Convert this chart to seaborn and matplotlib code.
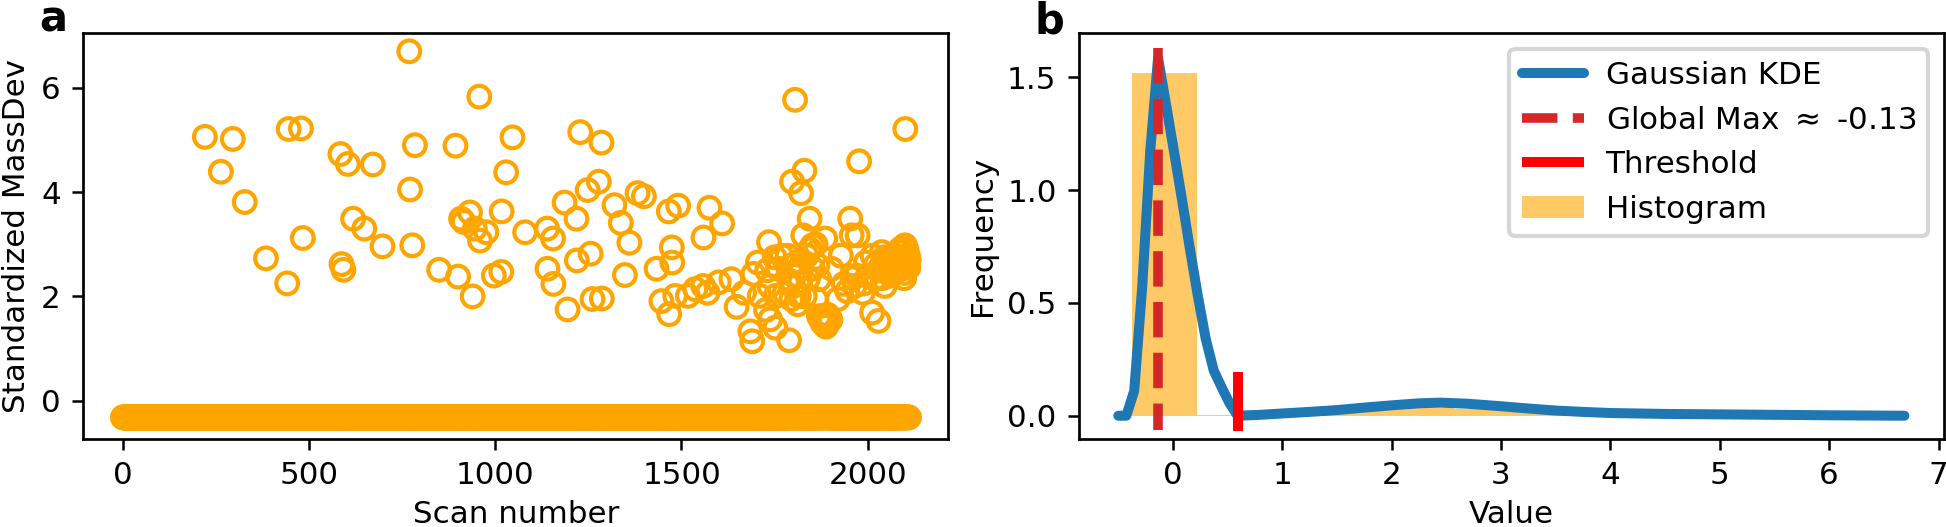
import numpy as np
import seaborn as sns
import matplotlib.pyplot as plt

# === panel a: standardized mass deviation per scan ===
n_scans = 2112
baseline_level = -0.32  # nearly all scans sit on this level

outlier_scans = [769, 957, 1805, 220, 295, 445, 478, 2101, 1228, 1285, 1046, 784, 893,
                 263, 1029, 1830, 1977, 584, 604, 671, 327, 771, 1797, 1821, 384, 441,
                 483, 587, 592, 618, 648, 697, 777, 849, 900, 908, 932, 945, 959, 939,
                 915, 976, 996, 1016, 1017, 1080, 1139, 1155, 1140, 1156, 1186, 1194,
                 1218, 1219, 1248, 1256, 1278, 1261, 1286, 1320, 1337, 1360, 1348, 1382,
                 1399, 1433, 1446, 1466, 1491, 1474, 1475, 1467, 1483, 1517, 1537, 1558,
                 1570, 1559, 1575, 1609, 1600, 1634, 1648, 1685, 1690, 1693, 1705, 1727,
                 1735, 1738, 1752, 1789, 1760, 1777, 1785, 1802, 1815, 1827, 1844, 1852,
                 1861, 1869, 1883, 1886, 1903, 1920, 1928, 1936, 1953, 1957, 1973, 1970,
                 1987, 2012, 2029, 2020, 2037, 2054, 2071, 2088, 2100, 2105, 2108, 2089,
                 2063, 2046, 1995, 2013, 2038, 1878, 1890, 1885, 1900, 1769, 1794, 1836,
                 1853, 1870, 1819, 1753, 1736, 1710, 1668,
                 2050, 2060, 2075, 2080, 2095, 2099, 2110, 2104, 2090, 2070, 2040, 2030,
                 2000, 1990, 1965, 1945, 1960, 2021, 2045, 2085, 2098, 2109, 1880, 1888,
                 1895, 1875, 1892, 1790, 1800, 1810, 1822, 1831, 1795, 1812, 1840, 1845,
                 1860, 1865, 1750, 1730]
outlier_values = [6.70, 5.83, 5.77, 5.06, 5.02, 5.21, 5.22, 5.21, 5.15, 4.95, 5.05, 4.90, 4.89,
                  4.39, 4.38, 4.41, 4.59, 4.73, 4.54, 4.53, 3.81, 4.05, 4.20, 3.98, 2.73, 2.25,
                  3.12, 2.62, 2.51, 3.49, 3.30, 2.96, 2.98, 2.51, 2.38, 3.49, 3.61, 3.30, 3.07, 2.00,
                  3.43, 3.23, 2.40, 2.47, 3.63, 3.23, 3.30, 3.11, 2.53, 2.24, 3.80, 1.75,
                  3.49, 2.69, 4.04, 2.82, 4.20, 1.95, 1.96, 3.75, 3.41, 3.03, 2.41, 3.98,
                  3.92, 2.53, 1.91, 3.63, 3.74, 2.94, 2.65, 1.66, 2.01, 2.01, 2.14, 2.20,
                  2.07, 3.13, 3.70, 3.40, 2.27, 2.33, 1.80, 1.33, 1.14, 2.43, 2.65, 1.74,
                  3.04, 1.56, 1.40, 1.16, 2.53, 2.07, 2.78, 2.40, 2.01, 3.17, 3.49, 2.98,
                  1.95, 1.62, 1.56, 3.11, 2.53, 1.95, 2.78, 2.24, 3.49, 3.17, 3.17, 2.40,
                  2.07, 1.69, 1.53, 2.33, 2.59, 2.72, 2.78, 2.91, 2.98, 2.59, 2.78, 2.53,
                  2.40, 2.20, 2.65, 2.78, 2.85, 1.50, 1.45, 1.60, 1.55, 2.78, 2.59, 2.78,
                  2.53, 2.33, 2.27, 2.01, 2.20, 2.01, 2.07,
                  2.50, 2.65, 2.55, 2.70, 2.60, 2.45, 2.70, 2.90, 2.75, 2.45, 2.35, 2.50,
                  2.40, 2.25, 2.20, 2.10, 2.35, 2.60, 2.75, 2.85, 2.35, 2.55, 1.50, 1.42,
                  1.55, 1.62, 1.65, 2.30, 2.20, 2.65, 2.55, 2.00, 1.95, 1.85, 2.35, 2.90,
                  3.00, 2.60, 2.75, 2.50]

# === panel b: density of the values ===
kde_x = [-0.497, -0.424, -0.352, -0.279, -0.206, -0.134, -0.061, 0.012, 0.084, 0.157,
         0.230, 0.302, 0.375, 0.448, 0.520, 0.593, 0.80, 1.00, 1.25, 1.50, 1.75, 2.00,
         2.25, 2.45, 2.70, 3.00, 3.25, 3.50, 3.75, 4.00, 4.50, 5.00, 5.50, 6.00, 6.687]
kde_y = [0.0, 0.0, 0.11, 0.57, 1.17, 1.585, 1.38, 1.17, 0.96, 0.74,
         0.53, 0.34, 0.20, 0.125, 0.055, 0.0, 0.004, 0.01, 0.017, 0.025, 0.036, 0.046,
         0.055, 0.058, 0.053, 0.042, 0.032, 0.023, 0.017, 0.012, 0.008, 0.006, 0.004, 0.002, 0.0]

hist_edges = [-0.37, 0.219, 0.808, 1.397, 1.986, 2.575, 3.164, 3.753, 4.342, 4.931, 5.52, 6.109, 6.698]
hist_heights = [1.518, 0.003, 0.008, 0.025, 0.035, 0.03, 0.015, 0.01, 0.007, 0.006, 0.003, 0.002]

global_max = -0.13
global_max_span = (1.628, -0.063)
threshold = 0.6
threshold_span = (-0.066, 0.192)

# === style ===
fs = 7.45
sns.set_style("ticks")
plt.rcParams.update({
    "font.family": ["DejaVu Sans"],
    "font.size": fs,
    "axes.labelsize": fs,
    "xtick.labelsize": fs,
    "ytick.labelsize": fs,
    "legend.fontsize": fs,
    "axes.edgecolor": "black",
    "axes.linewidth": 0.65,
    "axes.labelpad": 2.5,
    "xtick.color": "black",
    "ytick.color": "black",
    "xtick.major.size": 2.6,
    "ytick.major.size": 2.6,
    "xtick.major.width": 0.6,
    "ytick.major.width": 0.6,
    "xtick.major.pad": 2.8,
    "ytick.major.pad": 2.8,
    "axes.labelcolor": "black",
    "text.color": "black",
})

fig = plt.figure(figsize=(1946 / 300, 527 / 300), dpi=300)
ax1 = fig.add_axes([0.0429, 0.1679, 0.4445, 0.7694])
ax2 = fig.add_axes([0.5545, 0.1679, 0.4443, 0.7694])

# --- a ---
scan_number = np.arange(n_scans)
mass_dev = np.full(n_scans, baseline_level)
mass_dev[outlier_scans] = outlier_values

sns.scatterplot(x=scan_number, y=mass_dev, ax=ax1, s=27, facecolor="none",
                edgecolor="orange", linewidth=1.0, legend=False)
ax1.set_xlim(-106, 2217)
ax1.set_ylim(-0.725, 7.05)
ax1.set_xticks([0, 500, 1000, 1500, 2000])
ax1.set_yticks([0, 2, 4, 6])
ax1.set_xlabel("Scan number")
ax1.set_ylabel("Standardized MassDev")

# --- b ---
hist_centers = [(a + b) / 2 for a, b in zip(hist_edges[:-1], hist_edges[1:])]
sns.histplot(x=hist_centers, weights=hist_heights, bins=hist_edges, ax=ax2,
             color="orange", alpha=0.6, linewidth=0, label="Histogram")
sns.lineplot(x=kde_x, y=kde_y, ax=ax2, color="#1f77b4", linewidth=2.4,
             label="Gaussian KDE", sort=False)
gm_label = f"Global Max $\\approx$ {global_max:.2f}"
ax2.vlines(global_max, global_max_span[0], global_max_span[1], colors="#d62728",
           linestyles="--", linewidth=2.3, label=gm_label)
ax2.vlines(threshold, threshold_span[0], threshold_span[1], colors="red",
           linewidth=2.4, label="Threshold")

ax2.set_xlim(-0.856, 7.046)
ax2.set_ylim(-0.101, 1.696)
ax2.set_xticks(range(0, 8))
ax2.set_yticks([0.0, 0.5, 1.0, 1.5])
ax2.set_xlabel("Value")
ax2.set_ylabel("Frequency")

h, l = ax2.get_legend_handles_labels()
order = ["Gaussian KDE", gm_label, "Threshold", "Histogram"]
ax2.legend([h[l.index(k)] for k in order], order, loc="upper right",
           frameon=True, fancybox=True, edgecolor="0.8", framealpha=0.8,
           handletextpad=0.7)

for ax in (ax1, ax2):
    for sp in ax.spines.values():
        sp.set_visible(True)

fig.text(39 / 1946, 1 - 31.5 / 527, "a", fontsize=10, fontweight="bold", va="baseline")
fig.text(1034 / 1946, 1 - 33.5 / 527, "b", fontsize=10, fontweight="bold", va="baseline")

fig.savefig("out.png", dpi=300)
